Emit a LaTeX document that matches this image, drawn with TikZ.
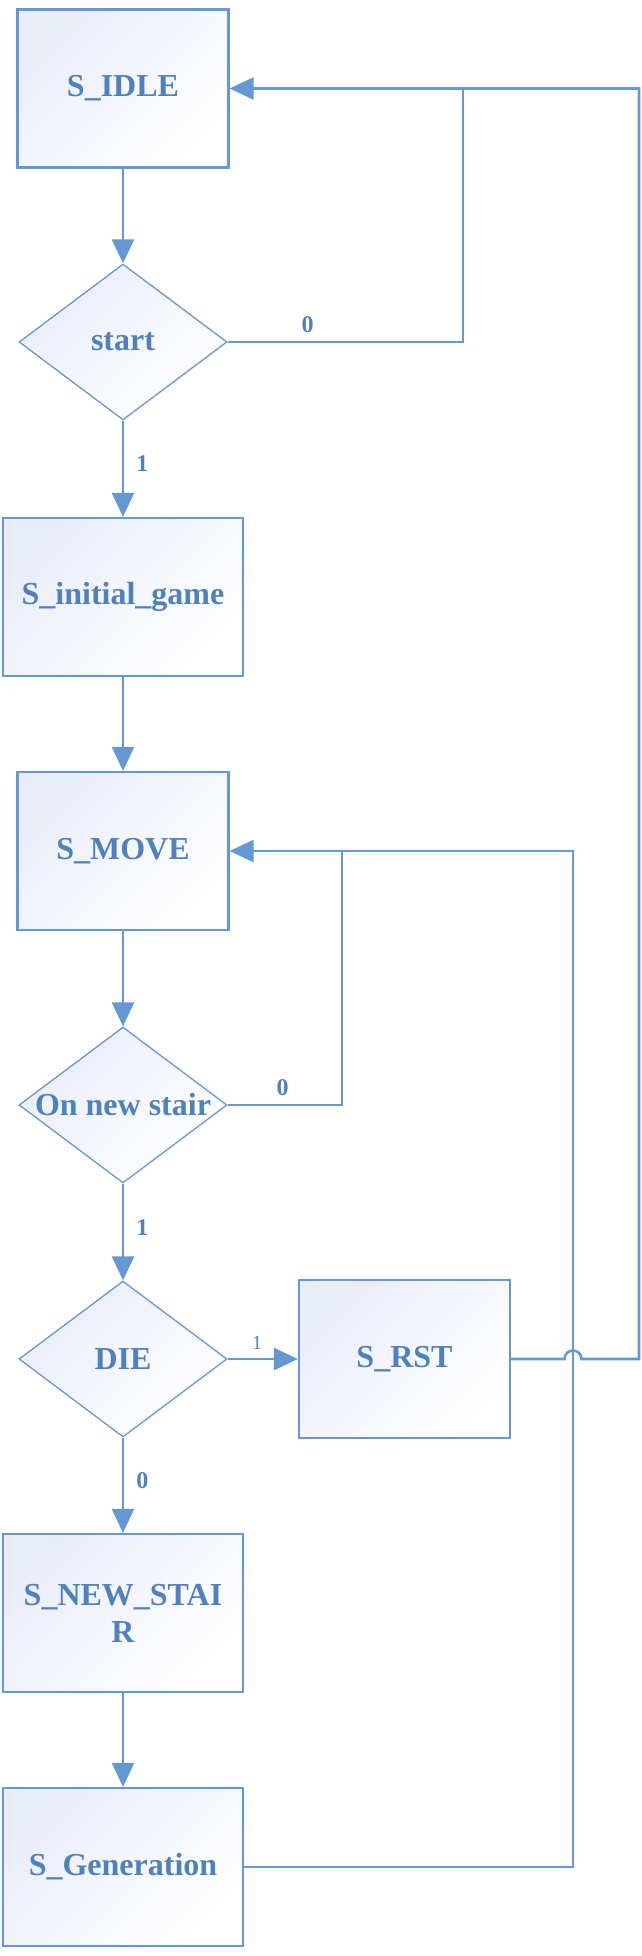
\documentclass[tikz,border=0pt]{standalone}
\usepackage{fontspec}
\setmainfont{Liberation Serif}
\usetikzlibrary{shapes.geometric,arrows.meta}
\definecolor{lineblue}{RGB}{100,152,212}
\definecolor{textblue}{RGB}{79,129,189}
\definecolor{boxfill}{RGB}{233,237,248}
\begin{document}
\begin{tikzpicture}[x=1pt,y=-1pt,
  statebox/.style={rectangle, draw=lineblue, line width=2.2pt, top color=boxfill, bottom color=white, shading angle=45,
    minimum width=211pt, minimum height=158pt, inner sep=0pt, font=\fontsize{32}{37}\selectfont\bfseries, text=textblue, align=center},
  widebox/.style={statebox, minimum width=240pt},
  decision/.style={diamond, draw=lineblue, line width=1.3pt, top color=boxfill, bottom color=white, shading angle=45,
    minimum width=208pt, minimum height=156pt, inner sep=0pt, aspect=1.333, font=\fontsize{32}{37}\selectfont\bfseries, text=textblue},
  flow/.style={draw=lineblue, line width=2.6pt, -{Triangle[length=24pt,width=22pt]}},
  wire/.style={draw=lineblue, line width=2.6pt},
  lbl/.style={font=\fontsize{24}{24}\selectfont\bfseries, text=textblue, inner sep=2pt},
  slbl/.style={font=\fontsize{20}{20}\selectfont, text=textblue, inner sep=2pt}
]
\useasboundingbox (0,0) rectangle (642,1956);

\node[statebox] (idle) at (123,88.5) {S\_IDLE};
\node[decision] (start) at (123,342) {start};
\node[widebox] (init) at (123,597) {S\_initial\_game};
\node[statebox] (move) at (123,851) {S\_MOVE};
\node[decision] (onns) at (123,1105) {On new stair};
\node[decision] (die) at (123,1359) {DIE};
\node[statebox] (rst) at (404.5,1359) {S\_RST};
\node[widebox] (newst) at (123,1613) {S\_NEW\_STAI\\R};
\node[widebox] (gen) at (123,1867) {S\_Generation};

\coordinate (j1) at (463,88.5);
\coordinate (j1b) at (463,342);
\coordinate (j2) at (342,851);
\coordinate (j2b) at (342,1105);
\coordinate (r1) at (639,1359);
\coordinate (r2) at (639,88.5);
\coordinate (hop) at (564.5,1359);
\coordinate (g1) at (573,1867);
\coordinate (g2) at (573,851);

\draw[flow] (idle.south) -- (start.north);
\draw[flow] (start.south) -- node[lbl, anchor=west, xshift=10pt, pos=0.45] {1} (init.north);
\draw[flow] (init.south) -- (move.north);
\draw[flow] (move.south) -- (onns.north);
\draw[flow] (onns.south) -- node[lbl, anchor=west, xshift=10pt, pos=0.45] {1} (die.north);
\draw[flow] (die.east) -- node[slbl, above=6pt, pos=0.42] {1} (rst.west);
\draw[flow] (die.south) -- node[lbl, anchor=west, xshift=10pt, pos=0.45] {0} (newst.north);
\draw[flow] (newst.south) -- (gen.north);

\draw[flow] (start.east) -- node[lbl, above=6pt, pos=0.34] {0} (j1b) -- (j1) -- (idle.east);
\draw[wire] (rst.east) -- (hop) arc[start angle=180, end angle=360, radius=8.5] -- (r1) -- (r2) -- (j1);
\draw[flow] (onns.east) -- node[lbl, above=6pt, pos=0.48] {0} (j2b) -- (j2) -- (move.east);
\draw[wire] (gen.east) -- (g1) -- (g2) -- (j2);
\end{tikzpicture}
\end{document}
